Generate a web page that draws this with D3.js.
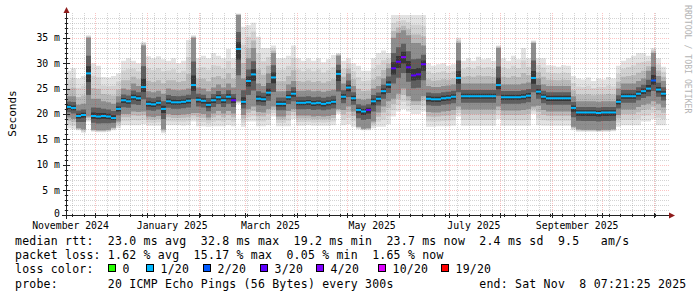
<!DOCTYPE html>
<html>
<head>
<meta charset="utf-8">
<script src="https://cdn.jsdelivr.net/npm/d3@7"></script>
<style>
  body { margin: 0; background: #fff; }
  text { font-family: "DejaVu Sans Mono", monospace; }
</style>
</head>
<body>
<div id="chart"></div>
<script>
// time span: 360 days up to the end stamp, data binned every 3 days
const endTime = new Date(Date.UTC(2025, 10, 8, 7, 21, 25));
const spanDays = 360;
const binDays = 3;

// median rtt per bin (ms)
const median = [
  21.4, 21.2, 19.6, 19.8, 28.0, 19.6, 19.5, 19.6, 19.5, 19.2,
  21.0, 22.7, 22.5, 23.3, 23.1, 25.3, 22.0, 21.9, 22.2, 21.0,
  22.5, 22.3, 22.3, 22.4, 22.6, 25.7, 22.8, 22.6, 21.8, 22.7,
  23.3, 22.7, 23.4, 22.7, 32.8, 22.4, 26.5, 27.8, 23.0, 22.9,
  24.2, 27.2, 22.0, 22.0, 23.3, 24.0, 22.2, 22.2, 22.3, 22.1,
  22.2, 22.0, 22.2, 22.4, 27.9, 23.4, 25.2, 23.1, 20.8, 20.5,
  20.8, 22.5, 23.0, 24.5, 25.8, 29.0, 30.3, 31.2, 29.2, 27.6,
  27.8, 29.8, 23.0, 22.9, 22.9, 23.1, 23.2, 23.4, 27.1, 23.5,
  23.5, 23.5, 23.5, 23.5, 23.5, 23.5, 25.7, 23.3, 23.3, 23.3,
  23.3, 23.4, 23.6, 27.1, 24.4, 23.4, 23.1, 23.1, 23.1, 23.1,
  23.1, 21.2, 20.3, 20.3, 20.3, 20.3, 20.2, 20.3, 20.3, 20.3,
  22.4, 23.5, 23.5, 23.5, 24.0, 24.5, 25.0, 26.6, 24.8, 24.0
];

// lost pings (of 20) per bin
const loss = [
  1, 1, 1, 1, 1, 1, 1, 1, 1, 1,
  1, 1, 1, 1, 1, 1, 1, 1, 1, 1,
  1, 1, 1, 1, 1, 1, 1, 1, 1, 1,
  1, 1, 1, 3, 1, 1, 1, 1, 1, 1,
  1, 1, 1, 1, 1, 1, 1, 1, 1, 1,
  1, 1, 1, 1, 1, 1, 1, 1, 1, 1,
  3, 1, 1, 1, 1, 3, 3, 4, 3, 3,
  3, 3, 1, 1, 1, 1, 1, 1, 1, 1,
  1, 1, 1, 1, 1, 1, 1, 1, 1, 1,
  1, 1, 1, 1, 1, 1, 1, 1, 1, 1,
  1, 1, 1, 1, 1, 1, 1, 1, 1, 1,
  1, 1, 1, 1, 1, 1, 1, 2, 1, 1
];

// smoke: fastest / slowest ping per bin (ms)
const smokeLo = [
  17.2, 17.0, 16.8, 16.3, 18.5, 16.5, 16.4, 16.4, 16.5, 16.8,
  17.2, 17.8, 17.8, 17.8, 17.8, 18.0, 17.7, 17.7, 17.7, 16.2,
  17.8, 17.8, 17.8, 17.7, 17.8, 18.5, 17.6, 17.6, 17.5, 17.6,
  17.6, 17.6, 17.8, 17.6, 22.0, 17.5, 18.5, 18.5, 17.6, 17.6,
  17.8, 19.5, 17.6, 17.6, 17.6, 19.0, 17.7, 17.7, 17.8, 17.7,
  17.7, 17.7, 17.7, 17.8, 20.0, 17.8, 18.0, 17.5, 17.0, 16.8,
  16.8, 17.2, 17.5, 17.5, 18.0, 19.5, 20.5, 21.0, 20.5, 20.0,
  20.0, 20.5, 17.5, 17.5, 17.6, 17.6, 17.6, 17.7, 19.5, 17.7,
  17.7, 17.7, 17.7, 17.7, 17.7, 17.7, 19.0, 17.7, 17.7, 17.7,
  17.7, 17.7, 17.7, 20.0, 17.8, 17.7, 17.7, 17.7, 17.7, 17.7,
  17.7, 16.8, 16.5, 16.5, 16.5, 16.5, 16.5, 16.5, 16.5, 16.6,
  17.5, 17.8, 17.8, 17.8, 17.8, 18.5, 18.5, 19.0, 17.8, 17.8
];
const smokeHi = [
  28.5, 29.0, 27.0, 27.5, 35.5, 30.0, 29.5, 27.3, 27.2, 27.5,
  28.0, 30.5, 31.0, 30.5, 30.0, 34.2, 31.4, 31.0, 31.4, 30.8,
  30.5, 31.0, 30.0, 30.5, 34.6, 35.5, 31.0, 31.5, 31.0, 32.0,
  31.5, 31.0, 32.8, 31.0, 39.8, 37.2, 37.5, 38.0, 35.2, 33.0,
  33.0, 33.5, 31.0, 31.0, 31.5, 33.5, 31.0, 30.5, 31.0, 30.5,
  31.0, 30.2, 30.8, 31.6, 32.0, 30.5, 31.0, 30.0, 29.5, 28.5,
  28.5, 31.0, 32.0, 32.5, 32.0, 39.5, 39.5, 39.5, 39.5, 39.5,
  39.5, 39.5, 30.0, 29.5, 29.8, 30.0, 29.5, 29.8, 35.0, 30.5,
  31.0, 30.5, 31.3, 30.8, 31.0, 30.5, 33.5, 31.0, 30.5, 31.5,
  30.8, 33.0, 31.0, 34.5, 31.0, 31.0, 29.6, 29.5, 29.3, 29.6,
  29.5, 27.5, 27.0, 26.8, 27.2, 26.5, 27.0, 26.8, 27.3, 27.0,
  29.5, 30.5, 31.0, 31.5, 32.0, 32.0, 31.5, 33.0, 31.0, 29.3
];

// smoke: edges of the dense (dark) part per bin (ms)
const darkLo = [
  19.3, 19.0, 17.2, 17.0, 19.5, 16.9, 16.8, 16.8, 16.9, 17.3,
  18.5, 20.0, 20.0, 20.5, 20.4, 20.5, 19.5, 19.4, 19.6, 17.0,
  20.0, 19.8, 19.8, 19.9, 20.0, 20.2, 20.2, 20.0, 19.3, 20.1,
  20.6, 20.1, 20.6, 20.1, 22.5, 19.8, 21.0, 21.5, 20.4, 20.3,
  21.0, 21.5, 19.5, 19.5, 20.6, 21.0, 19.7, 19.7, 19.7, 19.5,
  19.6, 19.5, 19.6, 19.8, 21.0, 20.8, 21.5, 20.5, 17.5, 17.1,
  17.2, 18.5, 20.3, 21.5, 22.5, 23.0, 24.0, 25.0, 23.5, 22.5,
  22.5, 23.5, 20.4, 20.3, 20.3, 20.5, 20.6, 20.8, 21.5, 20.9,
  20.9, 20.9, 20.9, 20.9, 20.9, 20.9, 21.5, 20.7, 20.7, 20.7,
  20.7, 20.8, 21.0, 21.5, 21.6, 20.8, 20.5, 20.5, 20.5, 20.5,
  20.5, 17.5, 17.0, 16.9, 16.9, 16.9, 16.8, 16.9, 16.9, 17.0,
  19.8, 20.9, 20.9, 20.9, 21.4, 21.8, 22.0, 22.5, 22.0, 21.3
];
const darkHi = [
  23.5, 23.5, 21.8, 22.0, 35.0, 23.0, 23.0, 22.5, 22.3, 22.0,
  23.5, 25.0, 24.8, 26.0, 25.5, 33.5, 24.5, 24.3, 24.6, 24.0,
  25.0, 24.8, 24.7, 24.8, 25.0, 35.0, 25.2, 25.0, 24.5, 25.2,
  25.8, 25.2, 26.0, 25.2, 39.5, 27.0, 31.0, 33.0, 26.0, 25.5,
  28.0, 32.0, 24.5, 24.5, 25.8, 26.5, 24.6, 24.6, 24.7, 24.5,
  24.6, 24.4, 24.6, 24.8, 31.5, 26.0, 28.0, 25.5, 23.0, 22.8,
  23.0, 25.0, 25.5, 27.0, 29.0, 35.0, 36.0, 36.5, 35.5, 34.0,
  34.0, 33.5, 25.5, 25.3, 25.3, 25.5, 25.6, 25.8, 34.0, 26.0,
  26.0, 26.0, 26.0, 26.0, 26.0, 26.0, 33.0, 25.8, 25.8, 25.8,
  25.8, 26.0, 26.2, 34.0, 27.0, 25.8, 25.5, 25.5, 25.5, 25.5,
  25.5, 23.5, 22.5, 22.5, 22.5, 22.5, 22.4, 22.5, 22.5, 22.5,
  25.0, 26.0, 26.0, 26.0, 26.5, 27.0, 28.5, 32.0, 27.5, 26.5
];

// axis tick labels
const yTicks = [0, 5, 10, 15, 20, 25, 30, 35];
const yTickLabels = ["0", "5 m", "10 m", "15 m", "20 m", "25 m", "30 m", "35 m"];
const xLabelMonths = ["2024-11", "2025-01", "2025-03", "2025-05", "2025-07", "2025-09"];

// loss colour classes
const lossSteps = [0, 1, 2, 3, 4, 10, 19];
const lossLabels = ["0", "1/20", "2/20", "3/20", "4/20", "10/20", "19/20"];
const lossColors = ["#26ff00", "#00b8ff", "#0059ff", "#5e00ff", "#7e00ff", "#dd00ff", "#ff0000"];

// legend texts
const legendRtt = "median rtt:  23.0 ms avg  32.8 ms max  19.2 ms min  23.7 ms now  2.4 ms sd  9.5   am/s";
const legendLoss = "packet loss: 1.62 % avg  15.17 % max  0.05 % min  1.65 % now";
const legendProbe = "probe:       20 ICMP Echo Pings (56 Bytes) every 300s            end: Sat Nov  8 07:21:25 2025";

// ---------------------------------------------------------------
const startTime = d3.utcDay.offset(endTime, -spanDays);
const bins = median.map(function (m, i) {
  return {
    t: d3.utcDay.offset(startTime, i * binDays),
    med: m, loss: loss[i],
    lo: smokeLo[i], hi: smokeHi[i], dlo: darkLo[i], dhi: darkHi[i]
  };
});
// closing point so the last step reaches the right edge
const stepData = bins.concat([Object.assign({}, bins[bins.length - 1], { t: endTime })]);

const svg = d3.select("#chart").append("svg")
  .attr("width", 697)
  .attr("height", 297)
  .style("display", "block");

const x = d3.scaleUtc().domain([startTime, endTime]).range([66, 666]);
const y = d3.scaleLinear().domain([0, 39.8]).range([215.5, 13.5]);
const lossColor = d3.scaleThreshold().domain(lossSteps.slice(1)).range(lossColors);
const keepSpaces = s => s.replace(/ /g, "\u00a0");

svg.append("clipPath").attr("id", "plot")
  .append("rect").attr("x", 66).attr("y", 13).attr("width", 600).attr("height", 203);

// smoke layers, outer (light) to inner (dark)
const lerp = (a, b, t) => a + (b - a) * t;
const layers = [
  { fill: "#e3e3e3", lo: d => d.lo, hi: d => d.hi },
  { fill: "#d2d2d2", lo: d => lerp(d.lo, d.dlo, 0.35), hi: d => lerp(d.hi, d.dhi, 0.35) },
  { fill: "#b9b9b9", lo: d => lerp(d.lo, d.dlo, 0.7), hi: d => lerp(d.hi, d.dhi, 0.7) },
  { fill: "#8e8e8e", lo: d => d.dlo, hi: d => d.dhi },
  { fill: "#5e5e5e", lo: d => lerp(d.dlo, d.med, 0.5), hi: d => lerp(d.dhi, d.med, 0.5) },
  { fill: "#363636", lo: d => lerp(d.dlo, d.med, 0.8), hi: d => lerp(d.dhi, d.med, 0.8) }
];
const smoke = svg.append("g").attr("clip-path", "url(#plot)");
layers.forEach(function (l) {
  smoke.append("path")
    .datum(stepData)
    .attr("fill", l.fill)
    .attr("d", d3.area()
      .curve(d3.curveStepAfter)
      .x(d => x(d.t))
      .y0(d => y(l.lo(d)))
      .y1(d => y(l.hi(d))));
});

// grid (drawn over the smoke, dotted)
const grid = svg.append("g").attr("shape-rendering", "crispEdges");
const months = d3.utcMonth.range(startTime, endTime);
const monthSet = new Set(months.map(d => +d));
const weeks = d3.utcSunday.range(startTime, endTime).filter(d => !monthSet.has(+d));
const px = v => Math.round(v) + 0.5;
const minorColor = "rgba(110,110,110,0.3)";
const majorColor = "rgba(240,40,40,0.28)";

grid.selectAll(".vminor").data(weeks).join("line")
  .attr("x1", d => px(x(d))).attr("x2", d => px(x(d)))
  .attr("y1", 13).attr("y2", 215)
  .attr("stroke", minorColor).attr("stroke-dasharray", "1,1");
const yMinor = d3.range(1, 40).filter(v => v % 5 !== 0);
grid.selectAll(".hminor").data(yMinor).join("line")
  .attr("x1", 64).attr("x2", 669)
  .attr("y1", d => px(y(d))).attr("y2", d => px(y(d)))
  .attr("stroke", minorColor).attr("stroke-dasharray", "1,1");
grid.selectAll(".vmajor").data(months).join("line")
  .attr("x1", d => px(x(d))).attr("x2", d => px(x(d)))
  .attr("y1", 13).attr("y2", 215)
  .attr("stroke", majorColor).attr("stroke-dasharray", "1,1");
grid.selectAll(".hmajor").data(yTicks.slice(1)).join("line")
  .attr("x1", 64).attr("x2", 669)
  .attr("y1", d => px(y(d))).attr("y2", d => px(y(d)))
  .attr("stroke", majorColor).attr("stroke-dasharray", "1,1");

// median line, coloured by loss
svg.append("g").attr("clip-path", "url(#plot)")
  .selectAll("line").data(bins).join("line")
  .attr("x1", d => x(d.t))
  .attr("x2", (d, i) => x(stepData[i + 1].t))
  .attr("y1", d => y(d.med)).attr("y2", d => y(d.med))
  .attr("stroke", d => lossColor(d.loss))
  .attr("stroke-width", 2);

// axes
const axisColor = "#222";
const arrowColor = "#8e1b1b";
const axes = svg.append("g").attr("shape-rendering", "crispEdges");
axes.append("line").attr("x1", 62).attr("x2", 670).attr("y1", 215.5).attr("y2", 215.5).attr("stroke", axisColor);
axes.append("line").attr("x1", 66.5).attr("x2", 66.5).attr("y1", 219).attr("y2", 11).attr("stroke", axisColor);
axes.selectAll(".ytick").data(yTicks.slice(1)).join("line")
  .attr("x1", 63).attr("x2", 70).attr("y1", d => px(y(d))).attr("y2", d => px(y(d)))
  .attr("stroke", axisColor);
axes.selectAll(".ymtick").data(yMinor).join("line")
  .attr("x1", 65).attr("x2", 68).attr("y1", d => px(y(d))).attr("y2", d => px(y(d)))
  .attr("stroke", axisColor);
axes.selectAll(".xtick").data(months).join("line")
  .attr("x1", d => px(x(d))).attr("x2", d => px(x(d))).attr("y1", 213).attr("y2", 218)
  .attr("stroke", axisColor);
axes.selectAll(".xmtick").data(weeks).join("line")
  .attr("x1", d => px(x(d))).attr("x2", d => px(x(d))).attr("y1", 214).attr("y2", 217)
  .attr("stroke", axisColor);
svg.append("path").attr("d", "M669,212.5L675,215.5L669,218.5Z").attr("fill", arrowColor);
svg.append("path").attr("d", "M63.5,13L66.5,7L69.5,13Z").attr("fill", arrowColor);

// tick labels
svg.append("g").selectAll("text").data(yTicks).join("text")
  .attr("x", 60).attr("y", d => d === 0 ? y(d) + 1.5 : y(d) + 3.5)
  .attr("text-anchor", "end")
  .style("font-size", "9.8px")
  .text((d, i) => keepSpaces(yTickLabels[i]));

const monthFmt = d3.utcFormat("%B %Y");
const parseMonth = d3.utcParse("%Y-%m");
svg.append("g").selectAll("text").data(xLabelMonths.map(parseMonth)).join("text")
  .attr("x", d => x(d3.utcDay.offset(d, 15)))
  .attr("y", 228.5)
  .attr("text-anchor", "middle")
  .style("font-size", "9.8px")
  .text(d => keepSpaces(monthFmt(d)));

svg.append("text")
  .attr("transform", "translate(15.5,113.5) rotate(-90)")
  .attr("text-anchor", "middle")
  .style("font-size", "11px")
  .text("Seconds");

svg.append("text")
  .attr("transform", "translate(685,5) rotate(90)")
  .style("font-size", "8.2px")
  .attr("fill", "#b4b4b4")
  .text(keepSpaces("RRDTOOL / TOBI OETIKER"));

// legend
const legend = svg.append("g")
  .style("font-size", "11.5px")
  .style("letter-spacing", "0.22px");
legend.append("text").attr("x", 15).attr("y", 245).text(keepSpaces(legendRtt));
legend.append("text").attr("x", 15).attr("y", 259.2).text(keepSpaces(legendLoss));
legend.append("text").attr("x", 15).attr("y", 273.4).text(keepSpaces("loss color:"));
legend.append("text").attr("x", 15).attr("y", 287.6).text(keepSpaces(legendProbe));

const legendBoxX = [108.5, 146.5, 203.5, 260.5, 316.5, 378.5, 441.5];
lossLabels.forEach(function (lab, i) {
  legend.append("rect")
    .attr("x", legendBoxX[i]).attr("y", 264.5)
    .attr("width", 7).attr("height", 7)
    .attr("fill", lossColors[i]).attr("stroke", "#000");
  legend.append("text")
    .attr("x", legendBoxX[i] + 14).attr("y", 273.4)
    .text(lab);
});
</script>
</body>
</html>
